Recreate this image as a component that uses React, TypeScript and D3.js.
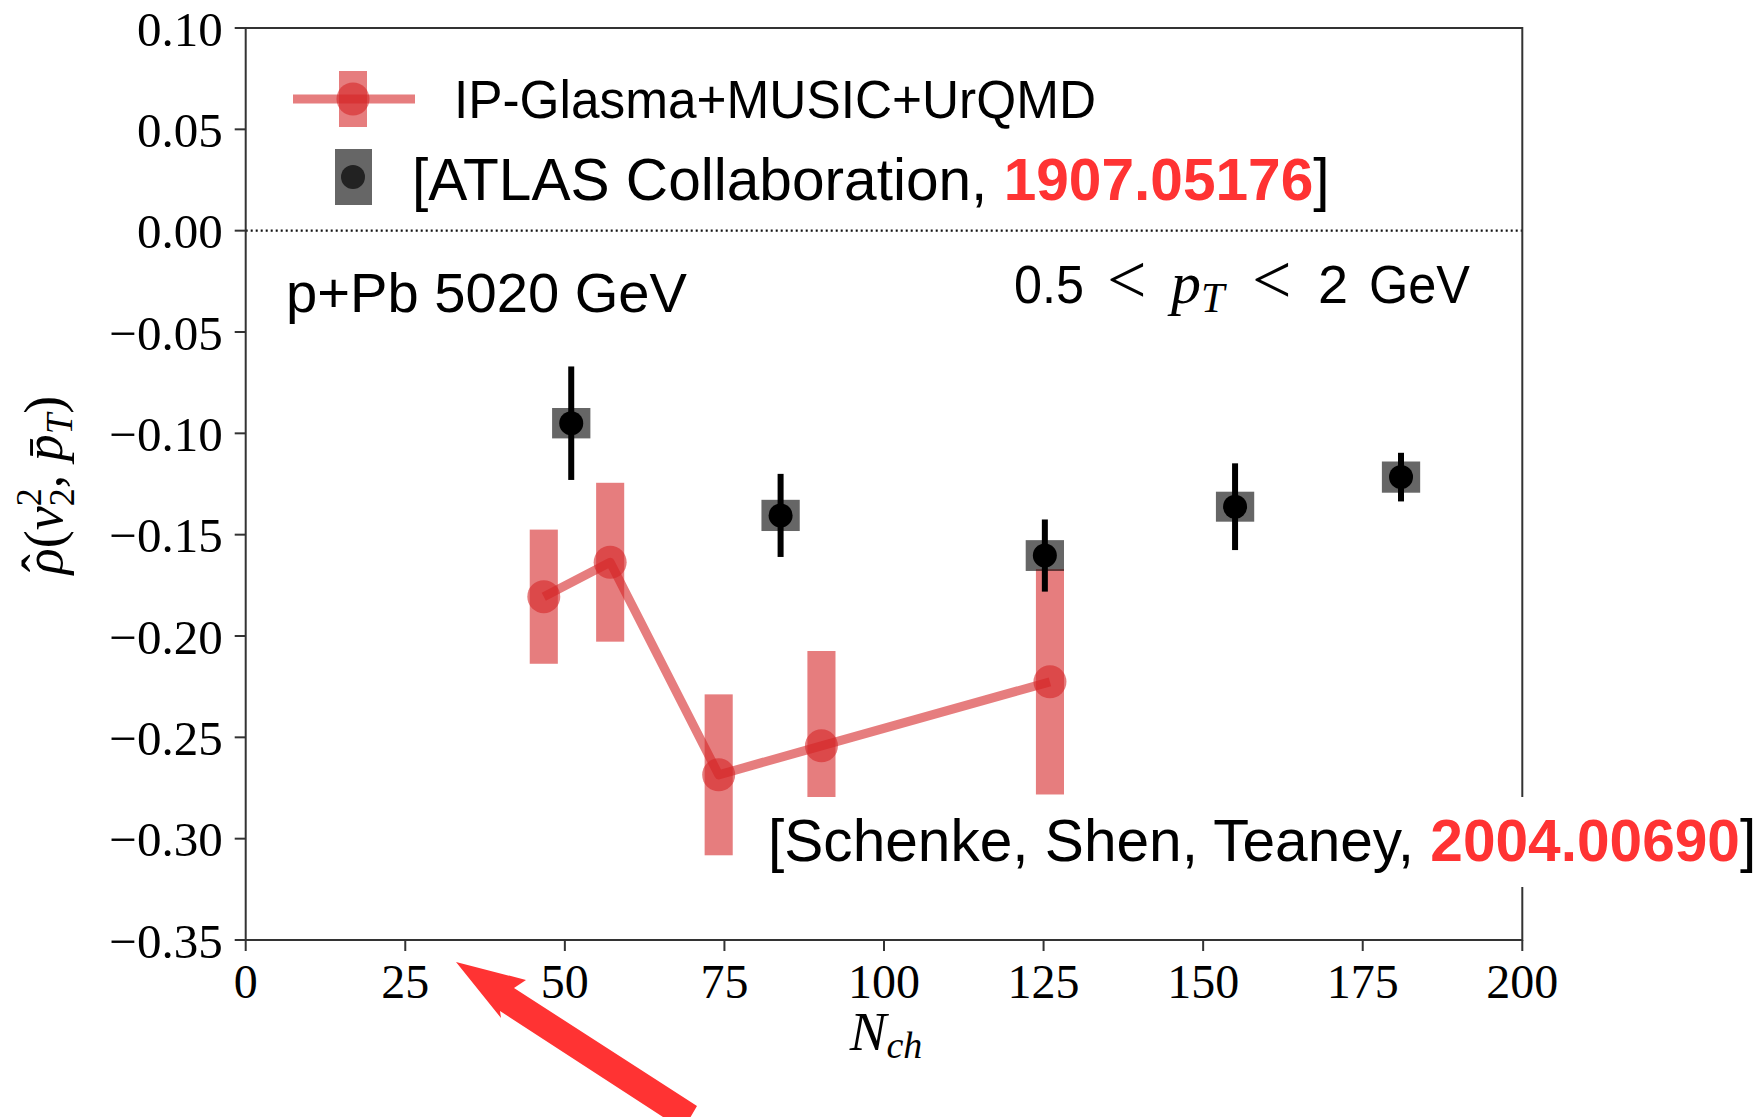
import React from "react";
import * as d3 from "d3";

// ---- data ----
const xTicks = [0, 25, 50, 75, 100, 125, 150, 175, 200];
const yTicks = [0.1, 0.05, 0.0, -0.05, -0.1, -0.15, -0.2, -0.25, -0.3, -0.35];

// IP-Glasma+MUSIC+UrQMD
const modelN = [46.7, 57.1, 74.1, 90.2, 126.0];
const modelV = [-0.1806, -0.1636, -0.2685, -0.2542, -0.2226];
const modelErr = [0.0331, 0.0392, 0.0397, 0.0468, 0.0556];

// ATLAS
const atlasN = [51.0, 83.8, 125.2, 155.0, 181.0];
const atlasV = [-0.095, -0.1405, -0.1603, -0.1362, -0.1216];
const atlasStat = [0.028, 0.0205, 0.0178, 0.0214, 0.012];
const atlasSys = [0.0075, 0.0077, 0.0076, 0.0074, 0.0077];

const RED = "#d62728";
const LINKRED = "#ff3333";

export default function App() {
  const L = 245.7, R = 1522.3, T = 28, B = 940;
  const x = d3.scaleLinear().domain([0, 200]).range([L, R]);
  const y = d3.scaleLinear().domain([-0.35, 0.1]).range([B, T]);
  const line = d3
    .line<number>()
    .x((_, i) => x(modelN[i]))
    .y((_, i) => y(modelV[i]));

  const fmt = (v: number) => {
    const s = Math.abs(v).toFixed(2);
    return v < -1e-9 ? "\u2212" + s : s;
  };

  const modelHalfW = x(2.2) - x(0);
  const atlasHalfW = x(3.0) - x(0);

  return (
    <svg
      width={1759}
      height={1117}
      style={{ position: "absolute", left: 0, top: 0, background: "#fff" }}
    >
      <rect x={0} y={0} width={1759} height={1117} fill="#fff" />

      {/* zero line */}
      <line x1={L} x2={R} y1={y(0)} y2={y(0)} stroke="#111" strokeWidth={2.2} strokeDasharray="2,3" />

      {/* model boxes */}
      {modelN.map((n, i) => (
        <rect
          key={"mb" + i}
          x={x(n) - modelHalfW}
          width={2 * modelHalfW}
          y={y(modelV[i] + modelErr[i])}
          height={y(modelV[i] - modelErr[i]) - y(modelV[i] + modelErr[i])}
          fill={RED}
          fillOpacity={0.6}
        />
      ))}
      <path d={line(modelV) || ""} fill="none" stroke={RED} strokeOpacity={0.6} strokeWidth={9} strokeLinejoin="round" />
      {modelN.map((n, i) => (
        <circle key={"mc" + i} cx={x(n)} cy={y(modelV[i])} r={16.5} fill={RED} fillOpacity={0.6} />
      ))}

      {/* ATLAS */}
      {atlasN.map((n, i) => (
        <g key={"a" + i}>
          <rect
            x={x(n) - atlasHalfW}
            width={2 * atlasHalfW}
            y={y(atlasV[i] + atlasSys[i])}
            height={y(atlasV[i] - atlasSys[i]) - y(atlasV[i] + atlasSys[i])}
            fill="#000"
            fillOpacity={0.6}
          />
          <line
            x1={x(n)}
            x2={x(n)}
            y1={y(atlasV[i] + atlasStat[i])}
            y2={y(atlasV[i] - atlasStat[i])}
            stroke="#000"
            strokeWidth={6}
          />
          <circle cx={x(n)} cy={y(atlasV[i])} r={12} fill="#000" />
        </g>
      ))}

      {/* spines */}
      <rect x={L} y={T} width={R - L} height={B - T} fill="none" stroke="#333" strokeWidth={2} />

      {/* y ticks */}
      {yTicks.map((t) => (
        <g key={"yt" + t}>
          <line x1={L - 11} x2={L} y1={y(t)} y2={y(t)} stroke="#333" strokeWidth={2} />
          <text
            x={L - 23}
            y={y(t)}
            dy="0.36em"
            textAnchor="end"
            fontFamily="Liberation Serif"
            fontSize={49}
            fill="#000"
          >
            {fmt(t)}
          </text>
        </g>
      ))}
      {/* x ticks */}
      {xTicks.map((t) => (
        <g key={"xt" + t}>
          <line x1={x(t)} x2={x(t)} y1={B} y2={B + 11} stroke="#333" strokeWidth={2} />
          <text x={x(t)} y={998} textAnchor="middle" fontFamily="Liberation Serif" fontSize={48} fill="#000">
            {t}
          </text>
        </g>
      ))}

      {/* axis labels */}
      <text x={886} y={1050} textAnchor="middle" fontFamily="Liberation Serif" fontStyle="italic" fontSize={55} fill="#000">
        N<tspan fontSize={38} dy={8}>ch</tspan>
      </text>
      <text
        transform="translate(62,485) rotate(-90)"
        textAnchor="middle"
        fontFamily="Liberation Serif"
        fontSize={54}
        fill="#000"
      >
        <tspan fontStyle="italic">{"\u03C1"}</tspan>
        <tspan dx={-24} dy={-2}>{"\u02C6"}</tspan>
        <tspan dx={6} dy={2}>(</tspan>
        <tspan fontStyle="italic">v</tspan>
        <tspan fontSize={36} dy={-21}>2</tspan>
        <tspan fontSize={36} dx={-18} dy={33}>2</tspan>
        <tspan dy={-12}>, </tspan>
        <tspan fontStyle="italic">{"p\u0304"}</tspan>
        <tspan fontStyle="italic" fontSize={37} dy={10}>T</tspan>
        <tspan dy={-10}>)</tspan>
      </text>

      {/* legend */}
      <line x1={293} x2={415} y1={99} y2={99} stroke={RED} strokeOpacity={0.6} strokeWidth={9} />
      <rect x={339} y={71} width={28} height={56} fill={RED} fillOpacity={0.6} />
      <circle cx={353} cy={99} r={16.5} fill={RED} fillOpacity={0.6} />
      <text x={454} y={118} fontFamily="Liberation Sans" fontSize={53} textLength={642} lengthAdjust="spacingAndGlyphs" fill="#000">
        IP-Glasma+MUSIC+UrQMD
      </text>

      <rect x={335} y={149} width={37} height={56} fill="#000" fillOpacity={0.6} />
      <circle cx={353} cy={177} r={12} fill="#222" />
      <text x={412} y={200} fontFamily="Liberation Sans" fontSize={58.6} fill="#000">
        [ATLAS Collaboration, <tspan fill={LINKRED} fontWeight="bold">1907.05176</tspan>]
      </text>

      {/* annotations */}
      <text x={286} y={312} fontFamily="Liberation Sans" fontSize={55} textLength={401} lengthAdjust="spacingAndGlyphs" fill="#000">
        p+Pb 5020 GeV
      </text>
      <text y={303} fontSize={54} fill="#000">
        <tspan x={1014} fontFamily="Liberation Sans" textLength={70} lengthAdjust="spacingAndGlyphs">0.5</tspan>
        <tspan x={1107} fontFamily="Liberation Serif" fontSize={70}>&lt;</tspan>
        <tspan x={1171} fontFamily="Liberation Serif" fontStyle="italic" fontSize={60}>p</tspan>
        <tspan x={1201} dy={9} fontFamily="Liberation Serif" fontStyle="italic" fontSize={42}>T</tspan>
        <tspan x={1252} dy={-9} fontFamily="Liberation Serif" fontSize={70}>&lt;</tspan>
        <tspan x={1318} fontFamily="Liberation Sans">2</tspan>
        <tspan x={1369} fontFamily="Liberation Sans" textLength={101} lengthAdjust="spacingAndGlyphs">GeV</tspan>
      </text>

      {/* Schenke reference box */}
      <rect x={762} y={797} width={1000} height={90} fill="#fff" />
      <text x={768} y={861} fontFamily="Liberation Sans" fontSize={58.6} fill="#000">
        [Schenke, Shen, Teaney, <tspan fill={LINKRED} fontWeight="bold">2004.00690</tspan>]
      </text>

      {/* arrow */}
      <polygon
        points="456,962 526,980 514,988 697,1106 683,1130 500,1011 501,1018"
        fill={LINKRED}
      />
    </svg>
  );
}
